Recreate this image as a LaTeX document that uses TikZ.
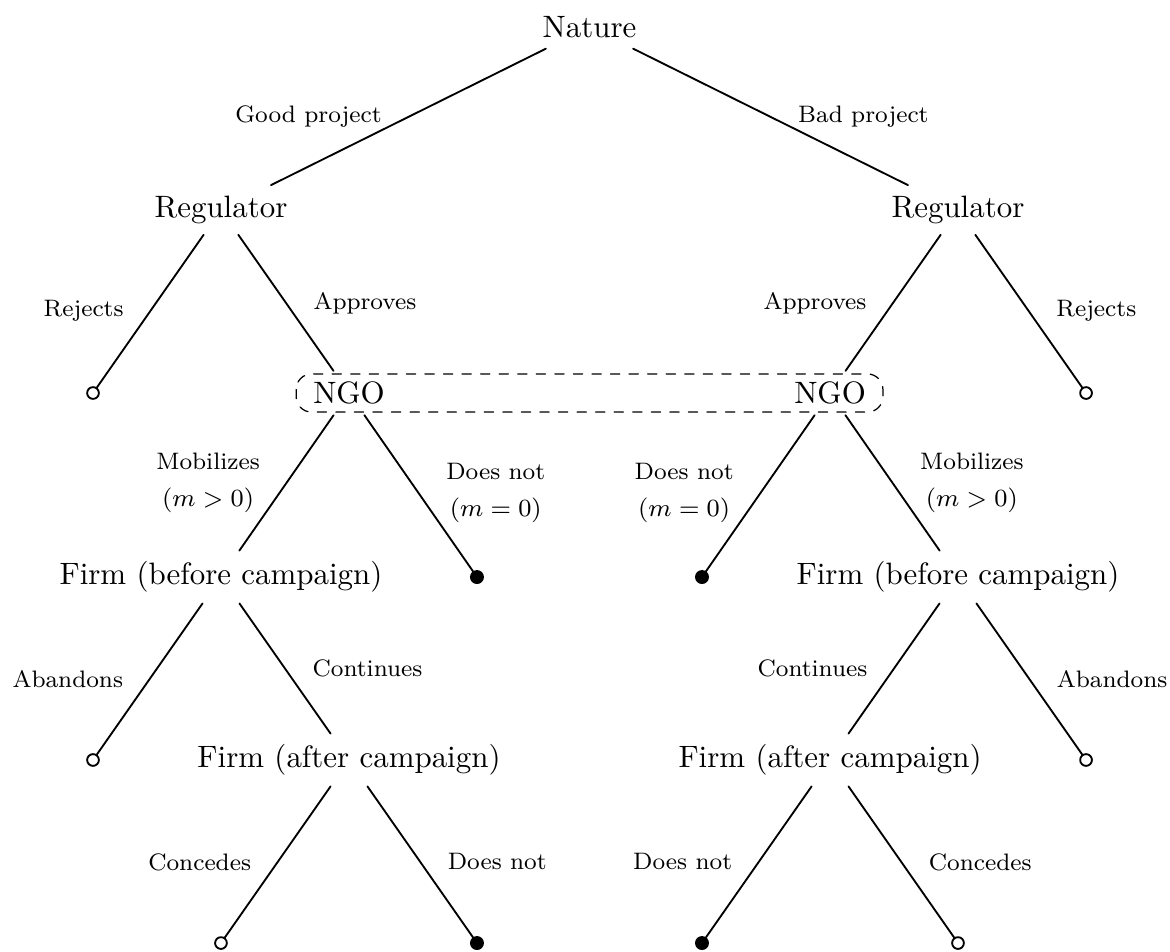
\documentclass[tikz,border=0pt]{standalone}
\usepackage{amsmath}
\usepackage{tikz}
\begin{document}
\begin{tikzpicture}[line cap=round,line join=round,x=1cm,y=1cm,
  branch/.style={line width=0.6pt},
  openend/.style={circle,draw,fill=white,inner sep=0pt,minimum size=3.8pt,line width=0.6pt},
  fullend/.style={circle,draw,fill=black,inner sep=0pt,minimum size=3.9pt,line width=0.6pt},
  lbl/.style={font=\fontsize{7.7}{12}\selectfont,align=center}]
\useasboundingbox (0,0) rectangle (13.295,-10.807);
% players
\node (nature) at (6.699,-0.307) {Nature};
\node (regL) at (2.511,-2.386) {Regulator};
\node (regR) at (10.886,-2.386) {Regulator};
\node (ngoL) at (3.966,-4.466) {NGO};
\node (ngoR) at (9.432,-4.466) {NGO};
\node (firmL) at (2.511,-6.557) {Firm (before campaign)};
\node (firmR) at (10.886,-6.557) {Firm (before campaign)};
\node (lateL) at (3.966,-8.636) {Firm (after campaign)};
\node (lateR) at (9.432,-8.636) {Firm (after campaign)};
% terminal nodes
\node[openend] (rejL) at (1.057,-4.466) {};
\node[openend] (rejR) at (12.341,-4.466) {};
\node[fullend] (quietL) at (5.420,-6.557) {};
\node[fullend] (quietR) at (7.977,-6.557) {};
\node[openend] (abanL) at (1.057,-8.636) {};
\node[openend] (abanR) at (12.341,-8.636) {};
\node[openend] (concL) at (2.511,-10.716) {};
\node[fullend] (fightL) at (5.420,-10.716) {};
\node[fullend] (fightR) at (7.977,-10.716) {};
\node[openend] (concR) at (10.886,-10.716) {};
% branches
\draw[branch] (nature) -- (regL) node[lbl,midway,left=5pt] {Good project};
\draw[branch] (nature) -- (regR) node[lbl,midway,right=5.3pt] {Bad project};
\draw[branch] (regL) -- (rejL) node[lbl,midway,left=5pt] {Rejects};
\draw[branch] (regL) -- (ngoL) node[lbl,midway,right=5.3pt] {Approves};
\draw[branch] (regR) -- (ngoR) node[lbl,midway,left=5pt] {Approves};
\draw[branch] (regR) -- (rejR) node[lbl,midway,right=5.3pt] {Rejects};
\draw[branch] (ngoL) -- (firmL) node[lbl,midway,left=5pt] {Mobilizes\\$(m>0)$};
\draw[branch] (ngoL) -- (quietL) node[lbl,midway,right=5.3pt] {Does not\\$(m=0)$};
\draw[branch] (ngoR) -- (quietR) node[lbl,midway,left=5pt] {Does not\\$(m=0)$};
\draw[branch] (ngoR) -- (firmR) node[lbl,midway,right=5.3pt] {Mobilizes\\$(m>0)$};
\draw[branch] (firmL) -- (abanL) node[lbl,midway,left=5pt] {Abandons};
\draw[branch] (firmL) -- (lateL) node[lbl,midway,right=5.3pt] {Continues};
\draw[branch] (firmR) -- (lateR) node[lbl,midway,left=5pt] {Continues};
\draw[branch] (firmR) -- (abanR) node[lbl,midway,right=5.3pt] {Abandons};
\draw[branch] (lateL) -- (concL) node[lbl,midway,left=5pt] {Concedes};
\draw[branch] (lateL) -- (fightL) node[lbl,midway,right=5.3pt] {Does not};
\draw[branch] (lateR) -- (fightR) node[lbl,midway,left=5pt] {Does not};
\draw[branch] (lateR) -- (concR) node[lbl,midway,right=5.3pt] {Concedes};
% information set
\draw[dashed,rounded corners=5pt] ([xshift=-2pt,yshift=-1pt]ngoL.north west) rectangle ([xshift=2pt,yshift=1pt]ngoR.south east);
\end{tikzpicture}
\end{document}
